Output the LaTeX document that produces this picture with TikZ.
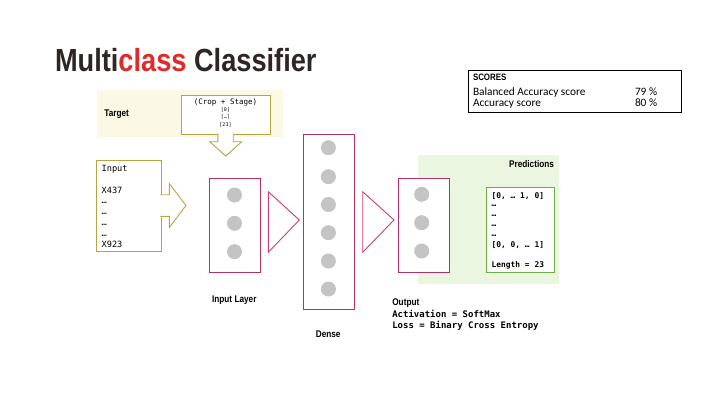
\documentclass[tikz,border=0pt]{standalone}
\usepackage{fontspec}
\usepackage{graphicx}
\setmainfont{Liberation Sans}
\setmonofont{DejaVu Sans Mono}
\newfontfamily\scorefont{Carlito}
\usetikzlibrary{calc}
\definecolor{titledark}{HTML}{2E2624}
\definecolor{titlered}{HTML}{E02B2B}
\definecolor{bandyellow}{HTML}{FBF8E5}
\definecolor{bandgreen}{HTML}{EAF6E0}
\definecolor{olivec}{HTML}{BCA243}
\definecolor{pinkc}{HTML}{B5306A}
\definecolor{tripink}{HTML}{CC3D75}
\definecolor{graydot}{HTML}{C4C4C4}
\definecolor{predgreen}{HTML}{6FAE45}
\newcommand\condlbl[2][9.7]{\scalebox{0.85}[1]{\fontsize{#1}{#1}\selectfont\bfseries #2}}
\begin{document}
\begin{tikzpicture}[x=1pt,y=-1pt,
  every node/.style={inner sep=0pt, outer sep=0pt},
  layerbox/.style={draw=pinkc, line width=0.9pt, fill=white, minimum width=51pt},
  neuron/.style={circle, fill=graydot, minimum size=15pt},
  tri/.style={draw=tripink, line width=0.9pt},
  olivebox/.style={draw=olivec, line width=0.9pt, fill=white},
  blockarrow/.style={draw=olivec, line width=0.9pt, fill=white},
  intext/.style={anchor=base west, font=\ttfamily\fontsize{8.6}{10}\selectfont},
  tgttext/.style={anchor=base, font=\ttfamily\fontsize{7.5}{9}\selectfont},
  tgtsmall/.style={anchor=base, font=\ttfamily\fontsize{5}{6}\selectfont},
  predtext/.style={anchor=base west, font=\ttfamily\bfseries\fontsize{7.9}{9}\selectfont},
  outtext/.style={anchor=base west, font=\ttfamily\bfseries\fontsize{9}{11}\selectfont},
  scoretext/.style={anchor=base west, font=\scorefont\fontsize{11.3}{13}\selectfont}
]
\useasboundingbox (0,0) rectangle (720,405);
\fill[white] (0,0) rectangle (720,405);

% background bands
\fill[bandyellow] (97.3,90) rectangle (282.7,137.3);
\fill[bandgreen] (418,155) rectangle (559,284);

% title
\node[anchor=base west] (title) at (55,71) {\scalebox{0.85}[1]{\fontsize{32}{36}\selectfont\bfseries\color{titledark}Multi\textcolor{titlered}{class} Classifier}};

% scores
\node[draw=black, line width=0.8pt, minimum width=213.4pt, minimum height=42.7pt] (scores) at (575,91.35) {};
\node[anchor=base west] (scoreshead) at (473,80.7) {\condlbl[9.3]{SCORES}};
\node[scoretext] (bal) at (473,95.7) {Balanced Accuracy score};
\node[scoretext] (balv) at (635,95.7) {79 \%};
\node[scoretext] (acc) at (473,106.7) {Accuracy score};
\node[scoretext] (accv) at (635,106.7) {80 \%};

% target
\node (targetlbl) at (116.7,114.3) {\condlbl{Target}};
\node[olivebox, minimum width=89pt, minimum height=39pt] (tgt) at (225.5,114.5) {};
\node[tgttext] (tgt1) at (225.5,104.6) {(Crop + Stage)};
\node[tgtsmall] (tgt2) at (225.5,111.6) {[0]};
\node[tgtsmall] (tgt3) at (225.5,118.9) {[…]};
\node[tgtsmall] (tgt4) at (225.5,126.3) {[23]};
\begin{scope}[shift={(tgt.south)}]
\draw[blockarrow] (-7.7,-0.6) -- (-7.7,7.7) -- (-15.8,7.7) -- (0.3,22) -- (16.2,7.7) -- (7.7,7.7) -- (7.7,-0.6);
\end{scope}

% input box
\node[olivebox, minimum width=64.3pt, minimum height=91pt] (inp) at (128.85,205.5) {};
\node[intext] (in1) at (101.7,171.4) {Input};
\node[intext] (in2) at (101.7,193.1) {X437};
\node[intext] (in3) at (101.7,203.3) {…};
\node[intext] (in4) at (101.7,214.3) {…};
\node[intext] (in5) at (101.7,225.3) {…};
\node[intext] (in6) at (101.7,236) {…};
\node[intext] (in7) at (101.7,247.1) {X923};
\begin{scope}[shift={(inp.east)}]
\draw[blockarrow] (-0.6,-10.8) -- (8.3,-10.8) -- (8.3,-22) -- (25,0) -- (8.3,22) -- (8.3,10.8) -- (-0.6,10.8);
\end{scope}

% layers
\node[layerbox, minimum height=94pt] (inl) at (234.9,225.3) {};
\node[layerbox, minimum height=174.7pt] (dense) at (328.8,221.65) {};
\node[layerbox, minimum height=94pt] (outl) at (423.8,225.3) {};

\foreach \y [count=\i] in {195,223.3,251.7} \node[neuron] (a\i) at (234.5,\y) {};
\foreach \y [count=\i] in {147.7,176.7,204.5,232.7,261,289} \node[neuron] (b\i) at (328.4,\y) {};
\foreach \y [count=\i] in {194.3,222.7,251} \node[neuron] (c\i) at (421.7,\y) {};

\draw[tri] (268.3,191.7) -- (299.3,220) -- (268.3,252.3) -- cycle;
\draw[tri] (362.7,191.7) -- (394,220) -- (362.7,252.3) -- cycle;

\node (inllbl) at (234.3,300) {\condlbl{Input Layer}};
\node (denselbl) at (328.2,334) {\condlbl{Dense}};
\node[anchor=west] (outlbl) at (392.3,303) {\condlbl{Output}};
\node[outtext] (act) at (392.3,317.2) {Activation = SoftMax};
\node[outtext] (loss) at (392.3,328.2) {Loss = Binary Cross Entropy};

% predictions
\node[anchor=east] (predlbl) at (554,164.3) {\condlbl{Predictions}};
\node[draw=predgreen, line width=1pt, fill=white, minimum width=68pt, minimum height=85pt] (pred) at (520,229.8) {};
\node[predtext] (p1) at (491.7,198.5) {[0, … 1, 0]};
\node[predtext] (p2) at (491.7,206) {…};
\node[predtext] (p3) at (491.7,216) {…};
\node[predtext] (p4) at (491.7,226) {…};
\node[predtext] (p5) at (491.7,236.5) {…};
\node[predtext] (p6) at (491.7,247.8) {[0, 0, … 1]};
\node[predtext] (p7) at (491.7,267.8) {Length = 23};
\end{tikzpicture}
\end{document}
